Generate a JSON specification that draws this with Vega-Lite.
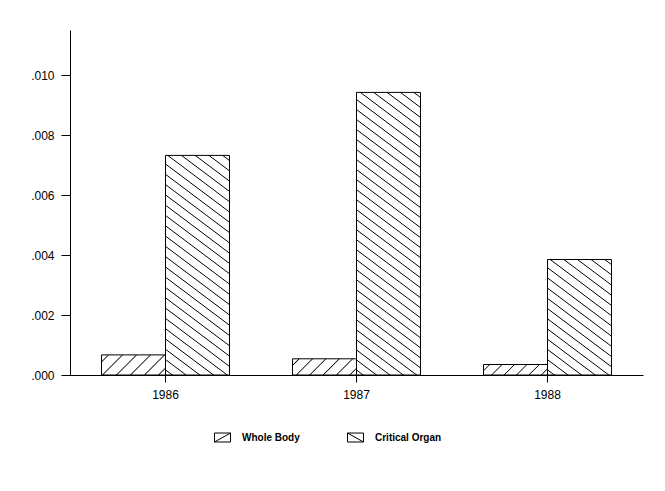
{
  "$schema": "https://vega.github.io/schema/vega-lite/v6.json",
  "autosize": "none",
  "width": 573,
  "height": 345,
  "padding": {"left": 70, "top": 30, "right": 22, "bottom": 116},
  "background": "white",
  "config": {"view": {"stroke": null}, "font": "Liberation Sans"},
  "data": {"values": [
    {"year": "1986", "series": "Whole Body", "dose": 0.00067},
    {"year": "1986", "series": "Critical Organ", "dose": 0.00732},
    {"year": "1987", "series": "Whole Body", "dose": 0.00054},
    {"year": "1987", "series": "Critical Organ", "dose": 0.00942},
    {"year": "1988", "series": "Whole Body", "dose": 0.00035},
    {"year": "1988", "series": "Critical Organ", "dose": 0.00385}
  ]},
  "mark": {"type": "bar", "stroke": "black", "strokeWidth": 1},
  "encoding": {
    "x": {"field": "year", "type": "nominal",
      "scale": {"paddingInner": 0.33, "paddingOuter": 0.165},
      "axis": {"title": null, "labelAngle": 0, "tickSize": 7, "tickColor": "black", "domainColor": "black", "labelColor": "black", "labelFontSize": 12, "labelPadding": 7, "grid": false}},
    "xOffset": {"field": "series", "type": "nominal", "scale": {"domain": ["Whole Body", "Critical Organ"], "paddingInner": 0, "paddingOuter": 0}},
    "y": {"field": "dose", "type": "quantitative",
      "scale": {"domain": [0, 0.0115], "nice": false},
      "axis": {"title": null, "values": [0, 0.002, 0.004, 0.006, 0.008, 0.01], "labelExpr": "substring(format(datum.value, '.3f'), 1)", "grid": false, "tickSize": 9, "tickColor": "black", "domainColor": "black", "labelColor": "black", "labelFontSize": 12, "labelPadding": 7}},
    "fill": {"field": "series", "type": "nominal",
      "scale": {"domain": ["Whole Body", "Critical Organ"], "range": ["white", "white"]},
      "legend": {"title": null, "orient": "none", "legendX": 144, "legendY": 399, "direction": "horizontal", "padding": 0,
        "labelFont": "Liberation Sans", "labelFontSize": 10, "labelFontWeight": "bold", "labelColor": "black", "labelOffset": 11, "columnPadding": 45,
        "symbolSize": 256, "symbolStrokeColor": "black", "symbolStrokeWidth": 1, "symbolFillColor": "white",
        "encode": {"symbols": {"update": {"shape": {"signal": "datum.value === 'Whole Body' ? 'M-1,-0.56H1V0.56H-1Z M-1,0.56L1,-0.56' : 'M-1,-0.56H1V0.56H-1Z M-1,-0.56L1,0.56'"}, "stroke": {"value": "black"}, "fill": {"value": "white"}}}}},
      "condition": [
        {"test": "datum.year === '1986' && datum.series === 'Whole Body'", "value": {"gradient": "linear", "x1": 0, "y1": 0, "x2": 1.1961, "y2": 0.37564, "stops": [
          {"offset": 0.0693, "color": "white"}, {"offset": 0.0833, "color": "black"}, {"offset": 0.0973, "color": "white"},
          {"offset": 0.236, "color": "white"}, {"offset": 0.25, "color": "black"}, {"offset": 0.264, "color": "white"},
          {"offset": 0.4027, "color": "white"}, {"offset": 0.4167, "color": "black"}, {"offset": 0.4307, "color": "white"},
          {"offset": 0.5693, "color": "white"}, {"offset": 0.5833, "color": "black"}, {"offset": 0.5973, "color": "white"},
          {"offset": 0.736, "color": "white"}, {"offset": 0.75, "color": "black"}, {"offset": 0.764, "color": "white"},
          {"offset": 0.9027, "color": "white"}, {"offset": 0.9167, "color": "black"}, {"offset": 0.9307, "color": "white"}]}},
        {"test": "datum.year === '1987' && datum.series === 'Whole Body'", "value": {"gradient": "linear", "x1": 0, "y1": 0, "x2": 1.1777, "y2": 0.2981, "stops": [
          {"offset": 0.0693, "color": "white"}, {"offset": 0.0833, "color": "black"}, {"offset": 0.0973, "color": "white"},
          {"offset": 0.236, "color": "white"}, {"offset": 0.25, "color": "black"}, {"offset": 0.264, "color": "white"},
          {"offset": 0.4027, "color": "white"}, {"offset": 0.4167, "color": "black"}, {"offset": 0.4307, "color": "white"},
          {"offset": 0.5693, "color": "white"}, {"offset": 0.5833, "color": "black"}, {"offset": 0.5973, "color": "white"},
          {"offset": 0.736, "color": "white"}, {"offset": 0.75, "color": "black"}, {"offset": 0.764, "color": "white"},
          {"offset": 0.9027, "color": "white"}, {"offset": 0.9167, "color": "black"}, {"offset": 0.9307, "color": "white"}]}},
        {"test": "datum.year === '1988' && datum.series === 'Whole Body'", "value": {"gradient": "linear", "x1": 0, "y1": 0, "x2": 1.13355, "y2": 0.18597, "stops": [
          {"offset": 0.0693, "color": "white"}, {"offset": 0.0833, "color": "black"}, {"offset": 0.0973, "color": "white"},
          {"offset": 0.236, "color": "white"}, {"offset": 0.25, "color": "black"}, {"offset": 0.264, "color": "white"},
          {"offset": 0.4027, "color": "white"}, {"offset": 0.4167, "color": "black"}, {"offset": 0.4307, "color": "white"},
          {"offset": 0.5693, "color": "white"}, {"offset": 0.5833, "color": "black"}, {"offset": 0.5973, "color": "white"},
          {"offset": 0.736, "color": "white"}, {"offset": 0.75, "color": "black"}, {"offset": 0.764, "color": "white"},
          {"offset": 0.9027, "color": "white"}, {"offset": 0.9167, "color": "black"}, {"offset": 0.9307, "color": "white"}]}},
        {"test": "datum.year === '1986' && datum.series === 'Critical Organ'", "value": {"gradient": "linear", "x1": 0, "y1": 1, "x2": 0.2542, "y2": -0.163, "stops": [
          {"offset": 0.0155, "color": "white"}, {"offset": 0.0192, "color": "black"}, {"offset": 0.0229, "color": "white"},
          {"offset": 0.054, "color": "white"}, {"offset": 0.0577, "color": "black"}, {"offset": 0.0614, "color": "white"},
          {"offset": 0.0925, "color": "white"}, {"offset": 0.0962, "color": "black"}, {"offset": 0.0999, "color": "white"},
          {"offset": 0.1309, "color": "white"}, {"offset": 0.1346, "color": "black"}, {"offset": 0.1383, "color": "white"},
          {"offset": 0.1694, "color": "white"}, {"offset": 0.1731, "color": "black"}, {"offset": 0.1768, "color": "white"},
          {"offset": 0.2078, "color": "white"}, {"offset": 0.2115, "color": "black"}, {"offset": 0.2152, "color": "white"},
          {"offset": 0.2463, "color": "white"}, {"offset": 0.25, "color": "black"}, {"offset": 0.2537, "color": "white"},
          {"offset": 0.2848, "color": "white"}, {"offset": 0.2885, "color": "black"}, {"offset": 0.2922, "color": "white"},
          {"offset": 0.3232, "color": "white"}, {"offset": 0.3269, "color": "black"}, {"offset": 0.3306, "color": "white"},
          {"offset": 0.3617, "color": "white"}, {"offset": 0.3654, "color": "black"}, {"offset": 0.3691, "color": "white"},
          {"offset": 0.4001, "color": "white"}, {"offset": 0.4038, "color": "black"}, {"offset": 0.4075, "color": "white"},
          {"offset": 0.4386, "color": "white"}, {"offset": 0.4423, "color": "black"}, {"offset": 0.446, "color": "white"},
          {"offset": 0.4771, "color": "white"}, {"offset": 0.4808, "color": "black"}, {"offset": 0.4845, "color": "white"},
          {"offset": 0.5155, "color": "white"}, {"offset": 0.5192, "color": "black"}, {"offset": 0.5229, "color": "white"},
          {"offset": 0.554, "color": "white"}, {"offset": 0.5577, "color": "black"}, {"offset": 0.5614, "color": "white"},
          {"offset": 0.5925, "color": "white"}, {"offset": 0.5962, "color": "black"}, {"offset": 0.5999, "color": "white"},
          {"offset": 0.6309, "color": "white"}, {"offset": 0.6346, "color": "black"}, {"offset": 0.6383, "color": "white"},
          {"offset": 0.6694, "color": "white"}, {"offset": 0.6731, "color": "black"}, {"offset": 0.6768, "color": "white"},
          {"offset": 0.7078, "color": "white"}, {"offset": 0.7115, "color": "black"}, {"offset": 0.7152, "color": "white"},
          {"offset": 0.7463, "color": "white"}, {"offset": 0.75, "color": "black"}, {"offset": 0.7537, "color": "white"},
          {"offset": 0.7848, "color": "white"}, {"offset": 0.7885, "color": "black"}, {"offset": 0.7922, "color": "white"},
          {"offset": 0.8232, "color": "white"}, {"offset": 0.8269, "color": "black"}, {"offset": 0.8306, "color": "white"},
          {"offset": 0.8617, "color": "white"}, {"offset": 0.8654, "color": "black"}, {"offset": 0.8691, "color": "white"},
          {"offset": 0.9001, "color": "white"}, {"offset": 0.9038, "color": "black"}, {"offset": 0.9075, "color": "white"},
          {"offset": 0.9386, "color": "white"}, {"offset": 0.9423, "color": "black"}, {"offset": 0.946, "color": "white"},
          {"offset": 0.9771, "color": "white"}, {"offset": 0.9808, "color": "black"}, {"offset": 0.9845, "color": "white"}]}},
        {"test": "datum.year === '1987' && datum.series === 'Critical Organ'", "value": {"gradient": "linear", "x1": 0, "y1": 1, "x2": 0.19313, "y2": -0.13705, "stops": [
          {"offset": 0.0122, "color": "white"}, {"offset": 0.0152, "color": "black"}, {"offset": 0.0182, "color": "white"},
          {"offset": 0.0425, "color": "white"}, {"offset": 0.0455, "color": "black"}, {"offset": 0.0485, "color": "white"},
          {"offset": 0.0728, "color": "white"}, {"offset": 0.0758, "color": "black"}, {"offset": 0.0788, "color": "white"},
          {"offset": 0.1031, "color": "white"}, {"offset": 0.1061, "color": "black"}, {"offset": 0.1091, "color": "white"},
          {"offset": 0.1334, "color": "white"}, {"offset": 0.1364, "color": "black"}, {"offset": 0.1394, "color": "white"},
          {"offset": 0.1637, "color": "white"}, {"offset": 0.1667, "color": "black"}, {"offset": 0.1697, "color": "white"},
          {"offset": 0.194, "color": "white"}, {"offset": 0.197, "color": "black"}, {"offset": 0.2, "color": "white"},
          {"offset": 0.2243, "color": "white"}, {"offset": 0.2273, "color": "black"}, {"offset": 0.2303, "color": "white"},
          {"offset": 0.2546, "color": "white"}, {"offset": 0.2576, "color": "black"}, {"offset": 0.2606, "color": "white"},
          {"offset": 0.2849, "color": "white"}, {"offset": 0.2879, "color": "black"}, {"offset": 0.2909, "color": "white"},
          {"offset": 0.3152, "color": "white"}, {"offset": 0.3182, "color": "black"}, {"offset": 0.3212, "color": "white"},
          {"offset": 0.3455, "color": "white"}, {"offset": 0.3485, "color": "black"}, {"offset": 0.3515, "color": "white"},
          {"offset": 0.3758, "color": "white"}, {"offset": 0.3788, "color": "black"}, {"offset": 0.3818, "color": "white"},
          {"offset": 0.4061, "color": "white"}, {"offset": 0.4091, "color": "black"}, {"offset": 0.4121, "color": "white"},
          {"offset": 0.4364, "color": "white"}, {"offset": 0.4394, "color": "black"}, {"offset": 0.4424, "color": "white"},
          {"offset": 0.4667, "color": "white"}, {"offset": 0.4697, "color": "black"}, {"offset": 0.4727, "color": "white"},
          {"offset": 0.497, "color": "white"}, {"offset": 0.5, "color": "black"}, {"offset": 0.503, "color": "white"},
          {"offset": 0.5273, "color": "white"}, {"offset": 0.5303, "color": "black"}, {"offset": 0.5333, "color": "white"},
          {"offset": 0.5576, "color": "white"}, {"offset": 0.5606, "color": "black"}, {"offset": 0.5636, "color": "white"},
          {"offset": 0.5879, "color": "white"}, {"offset": 0.5909, "color": "black"}, {"offset": 0.5939, "color": "white"},
          {"offset": 0.6182, "color": "white"}, {"offset": 0.6212, "color": "black"}, {"offset": 0.6242, "color": "white"},
          {"offset": 0.6485, "color": "white"}, {"offset": 0.6515, "color": "black"}, {"offset": 0.6545, "color": "white"},
          {"offset": 0.6788, "color": "white"}, {"offset": 0.6818, "color": "black"}, {"offset": 0.6848, "color": "white"},
          {"offset": 0.7091, "color": "white"}, {"offset": 0.7121, "color": "black"}, {"offset": 0.7151, "color": "white"},
          {"offset": 0.7394, "color": "white"}, {"offset": 0.7424, "color": "black"}, {"offset": 0.7454, "color": "white"},
          {"offset": 0.7697, "color": "white"}, {"offset": 0.7727, "color": "black"}, {"offset": 0.7757, "color": "white"},
          {"offset": 0.8, "color": "white"}, {"offset": 0.803, "color": "black"}, {"offset": 0.806, "color": "white"},
          {"offset": 0.8303, "color": "white"}, {"offset": 0.8333, "color": "black"}, {"offset": 0.8363, "color": "white"},
          {"offset": 0.8606, "color": "white"}, {"offset": 0.8636, "color": "black"}, {"offset": 0.8666, "color": "white"},
          {"offset": 0.8909, "color": "white"}, {"offset": 0.8939, "color": "black"}, {"offset": 0.8969, "color": "white"},
          {"offset": 0.9212, "color": "white"}, {"offset": 0.9242, "color": "black"}, {"offset": 0.9272, "color": "white"},
          {"offset": 0.9515, "color": "white"}, {"offset": 0.9545, "color": "black"}, {"offset": 0.9575, "color": "white"},
          {"offset": 0.9818, "color": "white"}, {"offset": 0.9848, "color": "black"}, {"offset": 0.9878, "color": "white"}]}},
        {"test": "datum.year === '1988' && datum.series === 'Critical Organ'", "value": {"gradient": "linear", "x1": 0, "y1": 1, "x2": 0.50166, "y2": -0.20711, "stops": [
          {"offset": 0.0252, "color": "white"}, {"offset": 0.0313, "color": "black"}, {"offset": 0.0374, "color": "white"},
          {"offset": 0.0877, "color": "white"}, {"offset": 0.0938, "color": "black"}, {"offset": 0.0999, "color": "white"},
          {"offset": 0.1502, "color": "white"}, {"offset": 0.1563, "color": "black"}, {"offset": 0.1624, "color": "white"},
          {"offset": 0.2127, "color": "white"}, {"offset": 0.2188, "color": "black"}, {"offset": 0.2249, "color": "white"},
          {"offset": 0.2752, "color": "white"}, {"offset": 0.2813, "color": "black"}, {"offset": 0.2874, "color": "white"},
          {"offset": 0.3377, "color": "white"}, {"offset": 0.3438, "color": "black"}, {"offset": 0.3499, "color": "white"},
          {"offset": 0.4002, "color": "white"}, {"offset": 0.4063, "color": "black"}, {"offset": 0.4124, "color": "white"},
          {"offset": 0.4627, "color": "white"}, {"offset": 0.4688, "color": "black"}, {"offset": 0.4749, "color": "white"},
          {"offset": 0.5252, "color": "white"}, {"offset": 0.5313, "color": "black"}, {"offset": 0.5374, "color": "white"},
          {"offset": 0.5877, "color": "white"}, {"offset": 0.5938, "color": "black"}, {"offset": 0.5999, "color": "white"},
          {"offset": 0.6502, "color": "white"}, {"offset": 0.6563, "color": "black"}, {"offset": 0.6624, "color": "white"},
          {"offset": 0.7127, "color": "white"}, {"offset": 0.7188, "color": "black"}, {"offset": 0.7249, "color": "white"},
          {"offset": 0.7752, "color": "white"}, {"offset": 0.7813, "color": "black"}, {"offset": 0.7874, "color": "white"},
          {"offset": 0.8377, "color": "white"}, {"offset": 0.8438, "color": "black"}, {"offset": 0.8499, "color": "white"},
          {"offset": 0.9002, "color": "white"}, {"offset": 0.9063, "color": "black"}, {"offset": 0.9124, "color": "white"},
          {"offset": 0.9627, "color": "white"}, {"offset": 0.9688, "color": "black"}, {"offset": 0.9749, "color": "white"}]}}
      ]
    }
  }
}
